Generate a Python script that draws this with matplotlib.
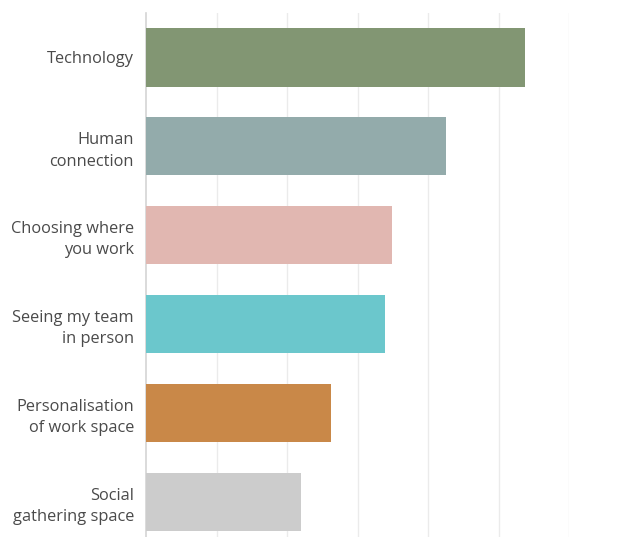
import matplotlib
matplotlib.use("Agg")
import matplotlib.pyplot as plt

categories = [
    "Technology",
    "Human\nconnection",
    "Choosing where\nyou work",
    "Seeing my team\nin person",
    "Personalisation\nof work space",
    "Social\ngathering space",
]
scores = [5.38, 4.25, 3.49, 3.39, 2.62, 2.20]
colors = ["#829673", "#93abab", "#e1b7b1", "#6bc7cc", "#c98848", "#cccccc"]

plt.rcParams["font.family"] = ["Open Sans", "DejaVu Sans"]

fig = plt.figure(figsize=(6.32, 5.37), dpi=100)
ax = fig.add_axes([0.2318, -0.0168, 0.6685, 0.9926])

ypos = list(range(len(categories)))
ax.barh(ypos, scores, height=0.655, color=colors, zorder=3)

ax.set_xlim(0, 6)
ax.set_ylim(len(categories) - 0.5, -0.5)
ax.set_xticks(range(1, 7))
ax.set_xticklabels([])
ax.tick_params(axis="x", length=0)
ax.grid(axis="x", color="#ebebeb", linewidth=1.0, zorder=0)

ax.set_yticks(ypos)
ax.set_yticklabels(categories, fontsize=11.8, color="#4a4a4a")
ax.tick_params(axis="y", length=0, pad=9)
for lbl in ax.get_yticklabels():
    lbl.set_linespacing(1.45)
    lbl.set_horizontalalignment("right")
    lbl.set_multialignment("right")

for side in ("top", "right", "bottom"):
    ax.spines[side].set_visible(False)
ax.spines["left"].set_color("#d4d4d4")
ax.spines["left"].set_linewidth(1.2)

fig.savefig("out.png", dpi=100)
